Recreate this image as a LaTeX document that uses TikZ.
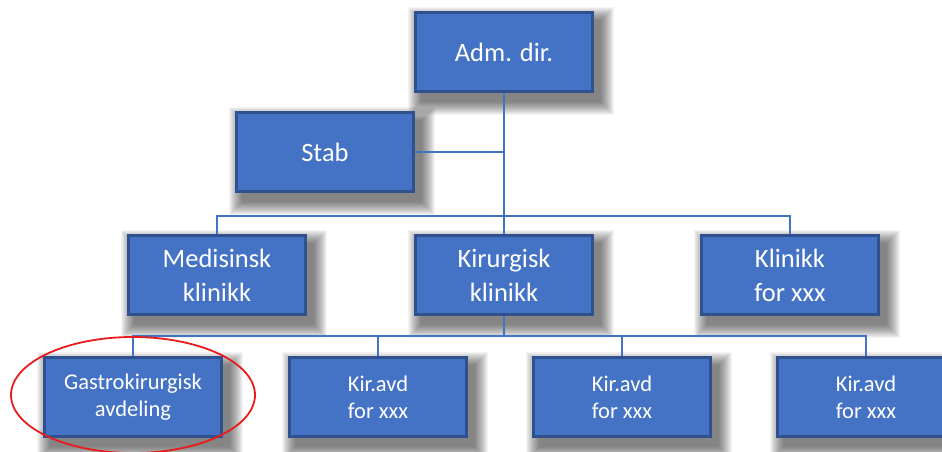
\documentclass[tikz,border=0pt]{standalone}
\usepackage{fontspec}
\setmainfont{Carlito}
\usetikzlibrary{backgrounds}
\definecolor{boksblaa}{HTML}{4472C4}
\definecolor{kantblaa}{HTML}{2F528F}
\definecolor{ringrod}{HTML}{E81C1C}
\begin{document}
\begin{tikzpicture}[
        x=1pt, y=-1pt,
        boks/.style={rectangle, draw=kantblaa, line width=2.6pt, fill=boksblaa, minimum width=177pt, minimum height=79pt, text=white, align=center, font=\fontsize{26.5}{34}\selectfont},
        liten/.style={boks, font=\fontsize{22.5}{27}\selectfont},
        linje/.style={draw=boksblaa, line width=2.4pt},
        tynn/.style={draw=boksblaa, line width=1.3pt},
        skygge/.style={fill=black, opacity=0.045}
    ]
    \useasboundingbox (0,0) rectangle (942,452);
    % nivaa 1
    \node[boks] (adm) at (504,52) {Adm. dir.};
    \node[boks] (stab) at (325,152) {Stab};
    % nivaa 2
    \node[boks] (med) at (217,275) {Medisinsk\\klinikk};
    \node[boks] (kir) at (504,275) {Kirurgisk\\klinikk};
    \node[boks] (klx) at (790,275) {Klinikk\\for xxx};
    % nivaa 3
    \node[liten] (gastro) at (133,397) {Gastrokirurgisk\\avdeling};
    \node[liten] (avd1) at (378,397) {Kir.avd\\for xxx};
    \node[liten] (avd2) at (622,397) {Kir.avd\\for xxx};
    \node[liten] (avd3) at (866,397) {Kir.avd\\for xxx};
    % skygger
    \begin{scope}[on background layer]
        \fill[white] (0,0) rectangle (942,452);
        \foreach \n in {adm,stab,med,kir,klx,gastro,avd1,avd2,avd3}
            \foreach \k [evaluate=\k as \e using 28-2*\k] in {0,...,13}
                \fill[skygge] ([shift={(7-\e,9-\e)}]\n.north west) rectangle ([shift={(7+\e,9+\e)}]\n.south east);
    \end{scope}
    % linjer
    \coordinate (bar1) at (504,216);
    \coordinate (bar2) at (504,336);
    \draw[linje] (adm.south) -- (kir.north);
    \draw[tynn] (stab.east) -- (stab.east -| adm.south);
    \draw[linje] (med.north) |- (bar1) -| (klx.north);
    \draw[linje] (kir.south) -- (bar2);
    \draw[linje] (gastro.north) |- (bar2) -| (avd3.north);
    \draw[linje] (avd1.north) -- (avd1.north |- bar2);
    \draw[linje] (avd2.north) -- (avd2.north |- bar2);
    % markering
    \draw[ringrod, line width=1.8pt] (133,395) ellipse [x radius=122pt, y radius=58pt];
\end{tikzpicture}
\end{document}
